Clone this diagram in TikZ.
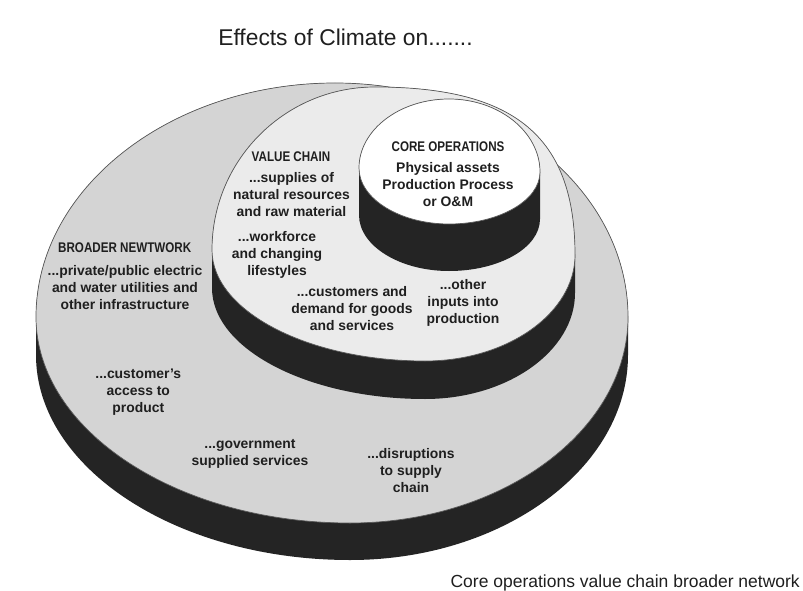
\documentclass[tikz,border=0pt]{standalone}
\usepackage{fontspec}
\setmainfont{Liberation Sans}
\newfontfamily\headfont{Liberation Sans}[UprightFont=* Bold,FakeStretch=0.83]
\definecolor{netgray}{gray}{0.83}
\definecolor{chaingray}{gray}{0.92}
\definecolor{sidegray}{gray}{0.14}
\definecolor{edgegray}{gray}{0.35}
\definecolor{inkgray}{gray}{0.12}
\tikzset{
	face/.style={draw=edgegray,line width=0.7pt},
	side/.style={fill=sidegray},
	bodytext/.style={font=\bfseries\fontsize{13.9}{17}\selectfont,text=inkgray,align=center,anchor=base,inner sep=0pt},
	headtext/.style={font=\headfont\fontsize{14}{17}\selectfont,text=inkgray,anchor=base,inner sep=0pt}
}
\begin{document}
\begin{tikzpicture}[x=1pt,y=-1pt]
	\useasboundingbox[fill=white] (0,0) rectangle (803,591);
	\fill[side] (36,317) -- (36,355) .. controls (36,468) and (177,560) .. (350,560) .. controls (503,560) and (628,468) .. (628,355) -- (628,317) .. controls (628,188) and (496,83) .. (335,83) .. controls (171,83) and (36,188) .. (36,317) -- cycle;
	\draw[face,fill=netgray] (36,317) .. controls (36,188) and (171,83) .. (335,83) .. controls (496,83) and (628,188) .. (628,317) .. controls (628,430) and (503,523) .. (350,523) .. controls (177,523) and (36,430) .. cycle;
	\fill[side] (212,250) -- (212,288) .. controls (212,349) and (308,399) .. (425,399) .. controls (507.5,399) and (575,351) .. (575,293) -- (575,255) .. controls (575,137) and (515,87) .. (375,87) .. controls (285,87) and (212,160) .. (212,250) -- cycle;
	\draw[face,fill=chaingray] (212,250) .. controls (212,160) and (285,87) .. (375,87) .. controls (515,87) and (575,137) .. (575,255) .. controls (575,313) and (507.5,361) .. (425,361) .. controls (308,361) and (212,311) .. cycle;
	\fill[side] (359,168) -- (359,215) .. controls (359,246) and (400,271) .. (449,271) .. controls (499,271) and (540,248) .. (540,219) -- (540,172) .. controls (540,132) and (499,99) .. (449,99) .. controls (399.5,99) and (359,130) .. (359,168) -- cycle;
	\draw[face,fill=white] (359,168) .. controls (359,130) and (399.5,99) .. (449,99) .. controls (499,99) and (540,132) .. (540,172) .. controls (540,200.6) and (499,224) .. (449,224) .. controls (400,224) and (359,198.8) .. cycle;
	\node[anchor=base,inner sep=0pt,font=\fontsize{22.8}{27}\selectfont,text=inkgray] (title) at (345.5,46) {Effects of Climate on.......};
	\node[anchor=base east,inner sep=0pt,font=\fontsize{17.5}{21}\selectfont,text=inkgray] (caption) at (800,587) {Core operations value chain broader network};
	\node[headtext] (core) at (448,151.7) {CORE OPERATIONS};
	\node[bodytext] (assets) at (448,206.7) {Physical assets\\Production Process\\or O\&M};
	\node[headtext] (chain) at (291,161.7) {VALUE CHAIN};
	\node[bodytext] (supplies) at (291.5,216.7) {...supplies of\\natural resources\\and raw material};
	\node[bodytext] (workforce) at (277,275) {...workforce\\and changing\\lifestyles};
	\node[bodytext] (customers) at (352,330) {...customers and\\demand for goods\\and services};
	\node[bodytext] (inputs) at (463,323.3) {...other\\inputs into\\production};
	\node[headtext] (network) at (124.7,252.7) {BROADER NEWTWORK};
	\node[bodytext] (utilities) at (125,309.3) {...private/public electric\\and water utilities and\\other infrastructure};
	\node[bodytext] (access) at (138.3,412.7) {...customer's\\access to\\product};
	\node[bodytext] (government) at (250,465.7) {...government\\supplied services};
	\node[bodytext] (disruptions) at (411,492.3) {...disruptions\\to supply\\chain};
\end{tikzpicture}
\end{document}
